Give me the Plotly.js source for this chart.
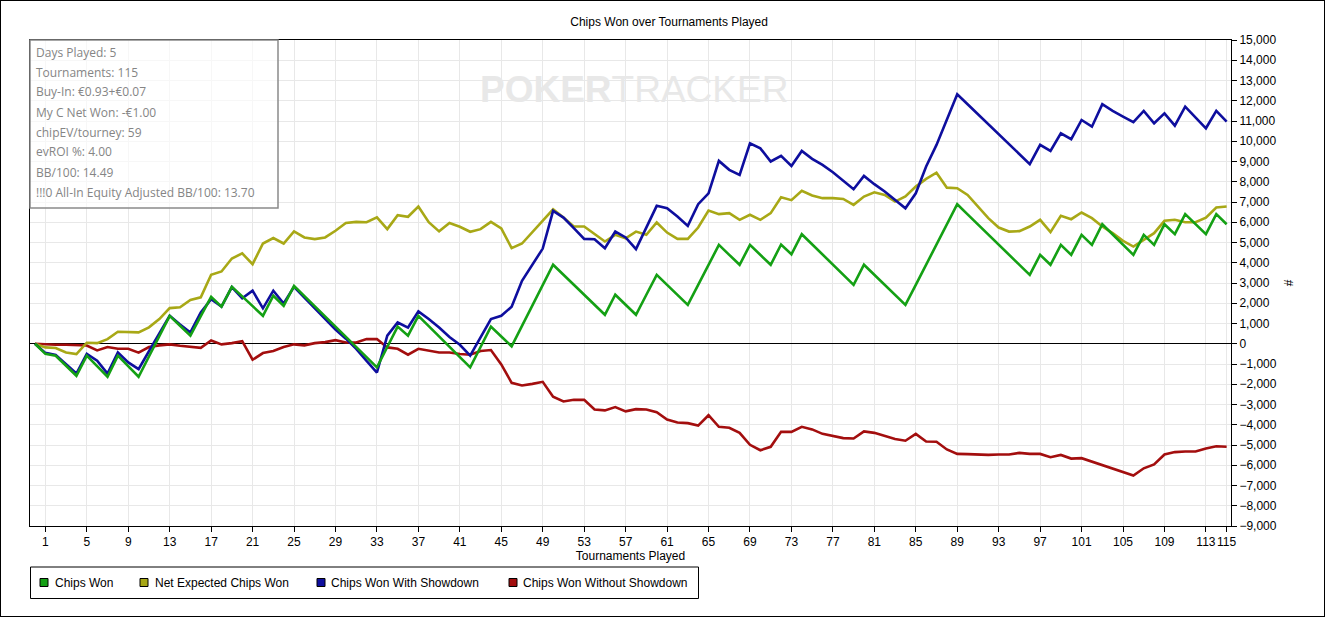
<!DOCTYPE html>
<html>
<head>
<meta charset="utf-8">
<script src="https://cdn.plot.ly/plotly-3.0.1.min.js"></script>
<style>
  html, body { margin: 0; padding: 0; background: #fff; }
  #wrap { position: relative; width: 1325px; height: 617px; }
  #chart { position: absolute; left: 0; top: 0; width: 1325px; height: 617px; }
  #frame { position: absolute; left: 0; top: 0; width: 1325px; height: 617px; box-sizing: border-box; border: 1px solid #000; pointer-events: none; }
</style>
</head>
<body>
<div id="wrap"><div id="chart"></div><div id="frame"></div></div>
<script>
// ---- data ----
const tournaments = Array.from({length: 116}, (_, i) => i);

const chipsWon = [0,-500,-590,-1090,-1580,-590,-1100,-1630,-590,-1110,-1630,-630,370,1380,890,400,1360,2320,1830,2810,
  2340,1860,1380,2370,1870,2860,2356,1852,1348,844,340,-164,-668,-1170,-160,850,400,1380,870,360,
  -150,-660,-1170,-160,850,360,-130,880,1890,2900,3900,3410,2910,2420,1920,1430,2420,1920,1430,2420,
  3400,2910,2410,1920,2910,3900,4880,4390,3900,4880,4390,3900,4900,4420,5410,4910,4410,3910,3410,2910,
  3900,3400,2910,2410,1920,2910,3910,4900,5890,6890,6390,5890,5390,4900,4400,3900,3400,4390,3900,4880,
  4390,5380,4880,5900,5400,4890,4390,5380,4880,5900,5410,6400,5900,5410,6400,5900];

const netExpected = [0,-180,-210,-430,-510,50,30,230,590,590,560,810,1220,1760,1800,2160,2290,3410,3570,4210,
  4460,3930,4950,5220,4950,5550,5250,5170,5250,5580,5960,6020,6000,6240,5660,6350,6270,6780,6000,5550,
  5960,5780,5530,5660,6020,5700,4720,4950,5500,6040,6640,6230,5790,5790,5410,5050,5380,5210,5540,5380,
  5990,5490,5180,5180,5740,6580,6400,6450,6120,6370,6120,6450,7230,7090,7550,7320,7190,7190,7150,6860,
  7270,7480,7350,7020,7270,7760,8140,8450,7710,7680,7350,6780,6200,5740,5540,5560,5790,6120,5510,6320,
  6150,6480,6200,5790,5460,5080,4800,5130,5460,6070,6120,6000,6000,6230,6730,6780];

const withShowdown = [0,-450,-550,-1000,-1470,-500,-840,-1470,-430,-920,-1250,-370,500,1380,950,560,1550,2200,1830,2800,
  2250,2620,1750,2620,1990,2810,2280,1750,1220,700,250,-250,-850,-1420,400,1050,800,1600,1220,800,
  330,-50,-590,330,1220,1380,1830,3110,3930,4700,6560,6230,5710,5180,5160,4720,5540,5250,4670,5710,
  6810,6690,6280,5820,6890,7430,9030,8590,8340,9900,9650,9000,9280,8780,9520,9130,8830,8470,8040,7630,
  8290,7880,7520,7110,6690,7430,8750,9820,11050,12320,11830,11340,10840,10350,9860,9360,8870,9820,9520,10390,
  10100,11050,10720,11830,11500,11220,10940,11500,10890,11380,10770,11710,11170,10640,11500,10970];

const withoutShowdown = [0,-30,-50,-50,-60,-90,-330,-160,-250,-250,-440,-160,-80,-30,-100,-160,-200,160,-30,30,
  130,-790,-460,-360,-160,-30,-80,30,80,180,60,60,230,230,-180,-250,-540,-250,-330,-430,
  -430,-510,-540,-360,-310,-1020,-1930,-2060,-1980,-1880,-2620,-2850,-2770,-2770,-3250,-3290,-3130,-3340,-3230,-3250,
  -3380,-3740,-3890,-3920,-4040,-3530,-4100,-4150,-4400,-4990,-5260,-5090,-4350,-4350,-4100,-4230,-4450,-4560,-4660,-4680,
  -4330,-4400,-4560,-4700,-4790,-4450,-4830,-4840,-5220,-5440,-5450,-5470,-5490,-5470,-5470,-5390,-5440,-5440,-5600,-5490,
  -5670,-5650,-5820,-5980,-6180,-6340,-6510,-6150,-5960,-5470,-5350,-5320,-5320,-5170,-5060,-5090];

const xTickVals = [1,5,9,13,17,21,25,29,33,37,41,45,49,53,57,61,65,69,73,77,81,85,89,93,97,101,105,109,113,115];
const xTickText = xTickVals.map(String);

const seriesNames = ['Chips Won', 'Net Expected Chips Won', 'Chips Won With Showdown', 'Chips Won Without Showdown'];
const seriesColors = ['#14a014', '#a8a816', '#0e0e9e', '#a30e0e'];

const statLines = [
  'Days Played: 5',
  'Tournaments: 115',
  'Buy-In: €0.93+€0.07',
  'My C Net Won: -€1.00',
  'chipEV/tourney: 59',
  'evROI %: 4.00',
  'BB/100: 14.49',
  '!!!0 All-In Equity Adjusted BB/100: 13.70'
];

// ---- geometry helpers (pixel -> paper) ----
const W = 1325, H = 617;
const M = {l: 30, r: 94, t: 40, b: 91};
const PW = W - M.l - M.r, PH = H - M.t - M.b;
const px2x = p => (p - M.l) / PW;
const px2y = p => (H - M.b - p) / PH;

const seriesData = [chipsWon, netExpected, withShowdown, withoutShowdown];
const drawOrder = [3, 1, 2, 0];

const traces = drawOrder.map(i => ({
  x: tournaments, y: seriesData[i], type: 'scatter', mode: 'lines',
  name: seriesNames[i], showlegend: false, hoverinfo: 'skip',
  line: {color: seriesColors[i], width: 2.6}
}));

const baseFont = 'Liberation Sans, Arial, sans-serif';

const annotations = statLines.map((t, k) => ({
  xref: 'paper', yref: 'paper', x: px2x(34), y: px2y(52 + 20 * k),
  xanchor: 'left', yanchor: 'middle', showarrow: false, text: t,
  font: {family: 'Open Sans, Noto Sans, sans-serif', size: 12, color: '#858585'}
}));
annotations.push({
  xref: 'paper', yref: 'paper', x: px2x(634), y: px2y(89),
  xanchor: 'center', yanchor: 'middle', showarrow: false,
  text: '<b>POKER</b>TRACKER',
  font: {family: baseFont, size: 37, color: '#e8e8e8'}
});

// custom legend (box, coloured squares, labels)
const legendSquareX = [40, 140, 317, 509];
const legendTextX = [53, 153, 329, 521];
const legendY = 582.5;
const shapes = [{
  type: 'rect', xref: 'paper', yref: 'paper', layer: 'above',
  x0: 0, x1: px2x(278), y0: px2y(208), y1: 1,
  line: {color: '#8a8a8a', width: 1.5},
  fillcolor: 'rgba(255,255,255,0.65)'
}, {
  type: 'rect', xref: 'paper', yref: 'paper', layer: 'above',
  x0: px2x(30.5), x1: px2x(698.5), y0: px2y(598.5), y1: px2y(567),
  line: {color: '#000', width: 1}, fillcolor: '#fff'
}];
seriesNames.forEach((nm, i) => {
  shapes.push({
    type: 'rect', xref: 'paper', yref: 'paper', layer: 'above',
    x0: px2x(legendSquareX[i]), x1: px2x(legendSquareX[i] + 8),
    y0: px2y(legendY + 4), y1: px2y(legendY - 4),
    line: {color: '#000', width: 1}, fillcolor: seriesColors[i]
  });
  annotations.push({
    xref: 'paper', yref: 'paper', x: px2x(legendTextX[i]), y: px2y(legendY),
    xanchor: 'left', yanchor: 'middle', showarrow: false, text: nm,
    font: {family: baseFont, size: 12, color: '#000'}
  });
});

const layout = {
  width: W, height: H,
  margin: M,
  paper_bgcolor: '#fff', plot_bgcolor: '#fff',
  font: {family: baseFont, size: 12, color: '#000'},
  title: {
    text: 'Chips Won over Tournaments Played',
    font: {family: baseFont, size: 12, color: '#000'},
    x: 0.505, xanchor: 'center', y: 1 - 22 / H, yanchor: 'middle'
  },
  showlegend: false,
  xaxis: {
    range: [-0.48, 115.42],
    tickmode: 'array', tickvals: xTickVals, ticktext: xTickText,
    tickangle: 0,
    showgrid: true, gridcolor: '#e8e8e8', gridwidth: 1,
    showline: true, linecolor: '#000', linewidth: 1, mirror: true,
    ticks: 'outside', ticklen: 5, tickcolor: '#000',
    zeroline: false,
    tickfont: {size: 12},
    title: {text: 'Tournaments Played', font: {size: 12}, standoff: 2}
  },
  yaxis: {
    side: 'right',
    range: [-9000, 15000], dtick: 1000, tick0: 0,
    tickformat: ',d',
    showgrid: true, gridcolor: '#e8e8e8', gridwidth: 1,
    showline: true, linecolor: '#000', linewidth: 1, mirror: true,
    ticks: 'outside', ticklen: 5, tickcolor: '#000',
    zeroline: true, zerolinecolor: '#000', zerolinewidth: 1,
    tickfont: {size: 12},
    title: {text: '#', font: {size: 12}, standoff: 8}
  },
  shapes: shapes,
  annotations: annotations
};

Plotly.newPlot('chart', traces, layout, {displayModeBar: false, staticPlot: true});
</script>
</body>
</html>
